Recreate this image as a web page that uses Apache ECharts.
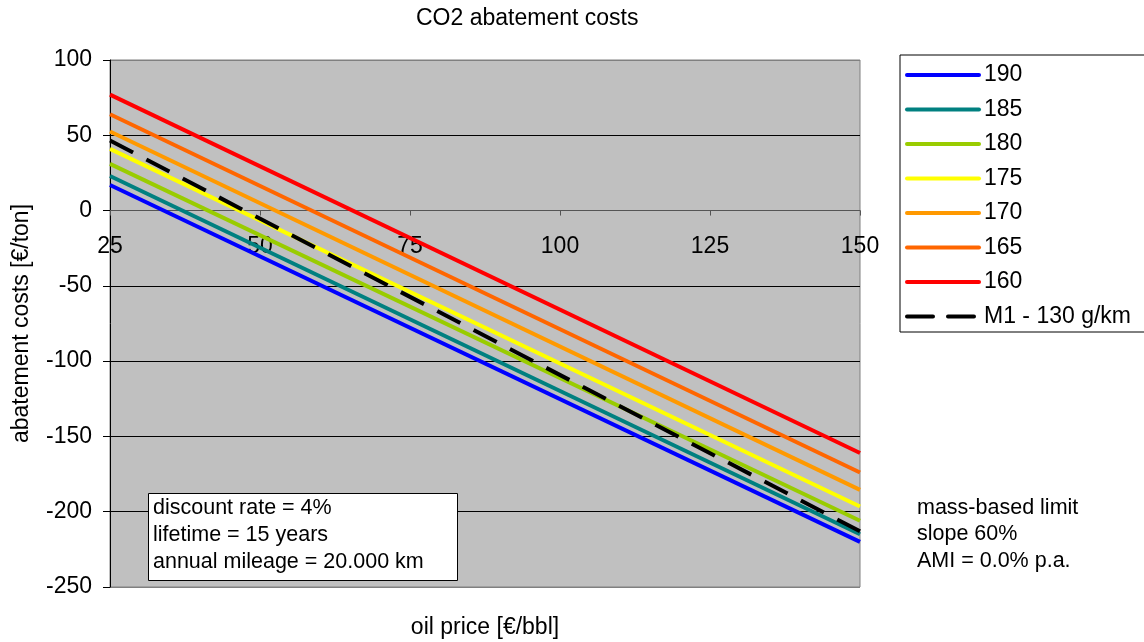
<!DOCTYPE html>
<html>
<head>
<meta charset="utf-8">
<script src="https://cdn.jsdelivr.net/npm/echarts@6/dist/echarts.min.js"></script>
<style>html,body{margin:0;padding:0;background:#fff}#c{width:1144px;height:642px}</style>
</head>
<body>
<div id="c"></div>
<script>
var oilPrice = [25, 150];
var s190 = [17, -220];
var s185 = [23, -215];
var s180 = [31, -206];
var s175 = [41, -196.5];
var s170 = [52.5, -185.5];
var s165 = [64, -174];
var s160 = [77, -161];
var sM1 = [46.5, -213];
var seriesNames = ['190', '185', '180', '175', '170', '165', '160', 'M1 - 130 g/km'];
var seriesValues = [s190, s185, s180, s175, s170, s165, s160, sM1];
var seriesColors = ['#0000FF', '#008080', '#99CC00', '#FFFF00', '#FF9900', '#FF6600', '#FF0000', '#000000'];
var yTicks = [-250, -200, -150, -100, -50, 0, 50, 100];
var xTicks = [25, 50, 75, 100, 125, 150];

var FONT = 'Liberation Sans, Arial, sans-serif';
var FS = 23, FS_NOTE = 21.5;
var GRID_TOP = 60, GRID_BOTTOM = 55, CHART_H = 642;
var Y_MIN = -250, Y_MAX = 100;
var plotH = CHART_H - GRID_TOP - GRID_BOTTOM;
// shift the x axis from the bottom of the grid up to y = 0
var xAxisOffset = -plotH * (0 - Y_MIN) / (Y_MAX - Y_MIN);

var chart = echarts.init(document.getElementById('c'));

var series = seriesNames.map(function (name, i) {
  var dashed = i === seriesNames.length - 1;
  return {
    name: name,
    type: 'line',
    symbol: 'none',
    data: oilPrice.map(function (x, j) { return [x, seriesValues[i][j]]; }),
    lineStyle: { color: seriesColors[i], width: 4, type: dashed ? [26, 15] : 'solid', cap: 'butt' },
    itemStyle: { color: seriesColors[i] },
    z: 3
  };
});

chart.setOption({
  animation: false,
  textStyle: { fontFamily: FONT },
  title: {
    text: 'CO2 abatement costs',
    left: 411, top: 2,
    textStyle: { fontSize: FS, fontWeight: 'normal', color: '#000', fontFamily: FONT, lineHeight: FS }
  },
  grid: {
    left: 110, top: GRID_TOP, right: 284, bottom: GRID_BOTTOM,
    show: true, backgroundColor: '#C0C0C0', borderColor: '#808080', borderWidth: 1
  },
  legend: {
    orient: 'vertical',
    left: 900, top: 55,
    padding: [8.5, 20, 4, 5],
    itemWidth: 72, itemHeight: 16, itemGap: 11.5, itemTextGap: 5,
    borderColor: '#000', borderWidth: 1, backgroundColor: '#fff',
    borderRadius: 0,
    itemStyle: { color: 'rgba(0,0,0,0)', borderColor: 'rgba(0,0,0,0)', borderWidth: 0, opacity: 0 },
    lineStyle: { width: 4, cap: 'round' },
    textStyle: { fontSize: FS, color: '#000', fontFamily: FONT, lineHeight: FS },
    data: seriesNames
  },
  xAxis: {
    type: 'value', min: 25, max: 150, interval: 25,
    position: 'bottom', offset: xAxisOffset,
    axisLine: { show: true, onZero: false, lineStyle: { color: '#555', width: 1 } },
    axisTick: { show: true, length: 5, lineStyle: { color: '#555' } },
    axisLabel: { fontSize: FS, color: '#000', margin: 25, fontFamily: FONT, lineHeight: FS,
      formatter: function (v) { return xTicks.indexOf(v) >= 0 ? String(v) : ''; } },
    splitLine: { show: false }
  },
  yAxis: {
    type: 'value', min: Y_MIN, max: Y_MAX, interval: 50,
    name: 'abatement costs [€/ton]', nameLocation: 'middle', nameGap: 77,
    nameTextStyle: { fontSize: FS, color: '#000', fontFamily: FONT },
    axisLine: { show: true, onZero: false, lineStyle: { color: '#000', width: 1 } },
    axisTick: { show: true, length: 7, lineStyle: { color: '#000' } },
    axisLabel: { fontSize: FS, color: '#000', margin: 18, fontFamily: FONT,
      formatter: function (v) { return yTicks.indexOf(v) >= 0 ? String(v) : ''; } },
    splitLine: { show: true, lineStyle: { color: ['#808080', '#000', '#000', '#000', '#000', '#000', '#000', '#808080'], width: 1 } }
  },
  graphic: [
    { type: 'text', z: 10, x: 485, y: 628,
      style: { text: 'oil price [€/bbl]', font: FS + 'px ' + FONT, fill: '#000', textAlign: 'center', textVerticalAlign: 'middle' } },
    { type: 'rect', z: 10, shape: { x: 148.5, y: 493.5, width: 309, height: 87 },
      style: { fill: '#fff', stroke: '#000', lineWidth: 1 } },
    { type: 'text', z: 11, x: 153, y: 495,
      style: { text: 'discount rate = 4%\nlifetime = 15 years\nannual mileage = 20.000 km', font: FS_NOTE + 'px ' + FONT, fill: '#000', lineHeight: 26.7 } },
    { type: 'text', z: 11, x: 917, y: 494.5,
      style: { text: 'mass-based limit\nslope 60%\nAMI = 0.0% p.a.', font: FS_NOTE + 'px ' + FONT, fill: '#000', lineHeight: 26.7 } }
  ],
  series: series
});
</script>
</body>
</html>
